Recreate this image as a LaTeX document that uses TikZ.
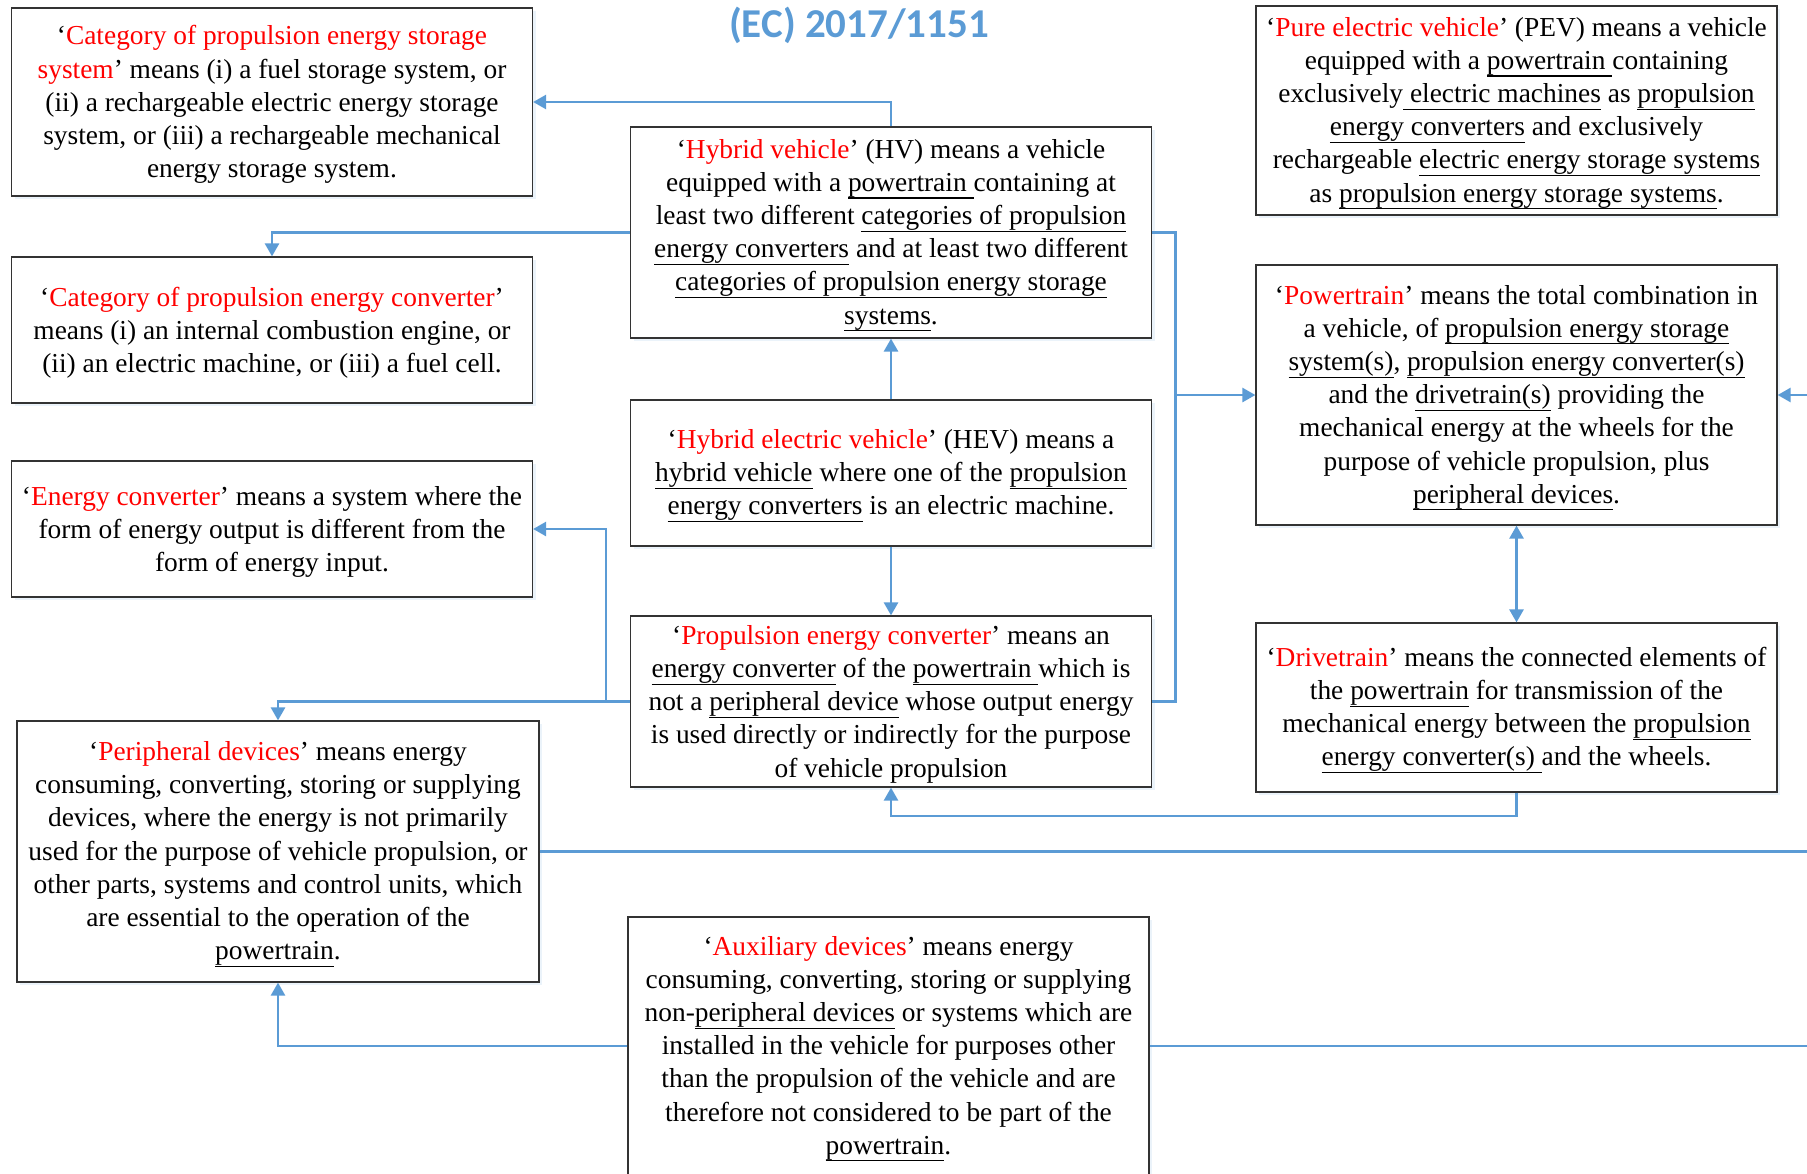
\documentclass[tikz,border=0pt]{standalone}
\usepackage{fontspec}
\setmainfont{Liberation Serif}
\newfontfamily\titlefont{Carlito}
\usetikzlibrary{arrows.meta}
\usetikzlibrary{shadows}
\definecolor{officeblue}{HTML}{5B9BD5}
\newlength\undlw
\newcommand\topstrut{\rule{0pt}{12.2pt}}
\newcommand\term[1]{\topstrut`\textcolor{red}{#1}'}
\newcommand\undl[1]{\settowidth\undlw{#1}\rlap{\rule[-3.6pt]{\undlw}{0.55pt}}#1}
\tikzset{
	defbox/.style={draw=black!80, line width=0.6pt, fill=white, align=center, minimum width=260.5pt, inner sep=2pt,
		font=\fontsize{13.7}{16.6}\selectfont,
		drop shadow={shadow xshift=1.5pt, shadow yshift=-1.5pt, fill=officeblue, opacity=0.12}},
	link/.style={officeblue, line width=1.3pt},
	headline/.style={font=\titlefont\bfseries\fontsize{20.5}{24}\selectfont, text=officeblue},
	>={Triangle[width=7pt,length=6.5pt]},
	}

\begin{document}
\begin{tikzpicture}[x=0.5pt,y=-0.5pt]
\useasboundingbox (0,0) rectangle (1807,1173);
\clip (0,0) rectangle (1807,1173);
%TITOLO
\node[headline] (title) at (859,25) {(EC) 2017/1151};
%COLONNA SINISTRA
\node[defbox, minimum height=94pt] (catstore) at (272,102) {\topstrut`\textcolor{red}{Category of propulsion energy storage}\\
	\textcolor{red}{system}' means (i) a fuel storage system, or\\
	(ii) a rechargeable electric energy storage\\
	system, or (iii) a rechargeable mechanical\\
	energy storage system.};
\node[defbox, minimum height=73pt] (catconv) at (272,330) {\term{Category of propulsion energy converter}\\
	means (i) an internal combustion engine, or\\
	(ii) an electric machine, or (iii) a fuel cell.};
\node[defbox, minimum height=68pt] (econv) at (272,529) {\term{Energy converter} means a system where the\\
	form of energy output is different from the\\
	form of energy input.};
\node[defbox, minimum height=130.5pt, minimum width=261pt] (periph) at (278,851.5) {\term{Peripheral devices} means energy\\
	consuming, converting, storing or supplying\\
	devices, where the energy is not primarily\\
	used for the purpose of vehicle propulsion, or\\
	other parts, systems and control units, which\\
	are essential to the operation of the\\
	\undl{powertrain}.};
%COLONNA CENTRALE
\node[defbox, minimum height=105.5pt] (hv) at (891,232.5) {\term{Hybrid vehicle} (HV) means a vehicle\\
	equipped with a \undl{powertrain~}containing at\\
	least two different \undl{categories of propulsion}\\
	\undl{energy converters} and at least two different\\
	\undl{categories of propulsion energy storage}\\
	\undl{systems}.};
\node[defbox, minimum height=73pt] (hev) at (891,473) {\term{Hybrid electric vehicle} (HEV) means a\\
	\undl{hybrid vehicle} where one of the \undl{propulsion}\\
	\undl{energy converters} is an electric machine.};
\node[defbox, minimum height=84.5pt] (pec) at (891,701.5) {\term{Propulsion energy converter} means an\\
	\undl{energy converter} of the \undl{powertrain~}which is\\
	not a \undl{peripheral device} whose output energy\\
	is used directly or indirectly for the purpose\\
	of vehicle propulsion};
\node[defbox, minimum height=129pt] (aux) at (888.5,1046) {\term{Auxiliary devices} means energy\\
	consuming, converting, storing or supplying\\
	non-\undl{peripheral devices} or systems which are\\
	installed in the vehicle for purposes other\\
	than the propulsion of the vehicle and are\\
	therefore not considered to be part of the\\
	\undl{powertrain}.};
%COLONNA DESTRA
\node[defbox, minimum height=104.5pt] (pev) at (1516.5,110.5) {\term{Pure electric vehicle} (PEV) means a vehicle\\
	equipped with a \undl{powertrain~}containing\\
	exclusively\undl{~electric machines} as \undl{propulsion}\\
	\undl{energy converters} and exclusively\\
	rechargeable \undl{electric energy storage systems}\\
	as \undl{propulsion energy storage systems}.};
\node[defbox, minimum height=130pt] (ptrain) at (1516.5,395) {\term{Powertrain} means the total combination in\\
	a vehicle, of \undl{propulsion energy storage}\\
	\undl{system(s)}, \undl{propulsion energy converter(s)}\\
	and the \undl{drivetrain(s)} providing the\\
	mechanical energy at the wheels for the\\
	purpose of vehicle propulsion, plus\\
	\undl{peripheral devices}.};
\node[defbox, minimum height=84.5pt] (dtrain) at (1516.5,707.5) {\term{Drivetrain} means the connected elements of\\
	the \undl{powertrain} for transmission of the\\
	mechanical energy between the \undl{propulsion}\\
	\undl{energy converter(s)~}and the wheels.};
%PUNTI DI SNODO
\coordinate (lbus) at (606,701.5);
\coordinate (rbus) at (1175.5,232.5);
\coordinate (kdown) at (1516.5,816);
\coordinate (edge1) at (1807,395);
\coordinate (edge2) at (1807,851.5);
\coordinate (edge3) at (1807,1046);
%FRECCE
\draw[->, link] (hv.north) |- (catstore.east);
\draw[->, link] (hv.west) -| (catconv.north);
\draw[->, link] (hev.north) -- (hv.south);
\draw[->, link] (hev.south) -- (pec.north);
\draw[-, link] (pec.west) -- (lbus);
\draw[->, link] (lbus) |- (econv.east);
\draw[->, link] (lbus) -| (periph.north);
\draw[-, link] (hv.east) -- (rbus) |- (pec.east);
\draw[->, link] (rbus |- ptrain.west) -- (ptrain.west);
\draw[<->, link] (ptrain.south) -- (dtrain.north);
\draw[->, link] (dtrain.south) -- (kdown) -| (pec.south);
\draw[->, link] (aux.west) -| (periph.south);
% LINEE VERSO IL BORDO
\draw[->, link] (edge1) -- (ptrain.east);
\draw[-, link] (periph.east) -- (edge2);
\draw[-, link] (aux.east) -- (edge3);
\end{tikzpicture}
\end{document}
